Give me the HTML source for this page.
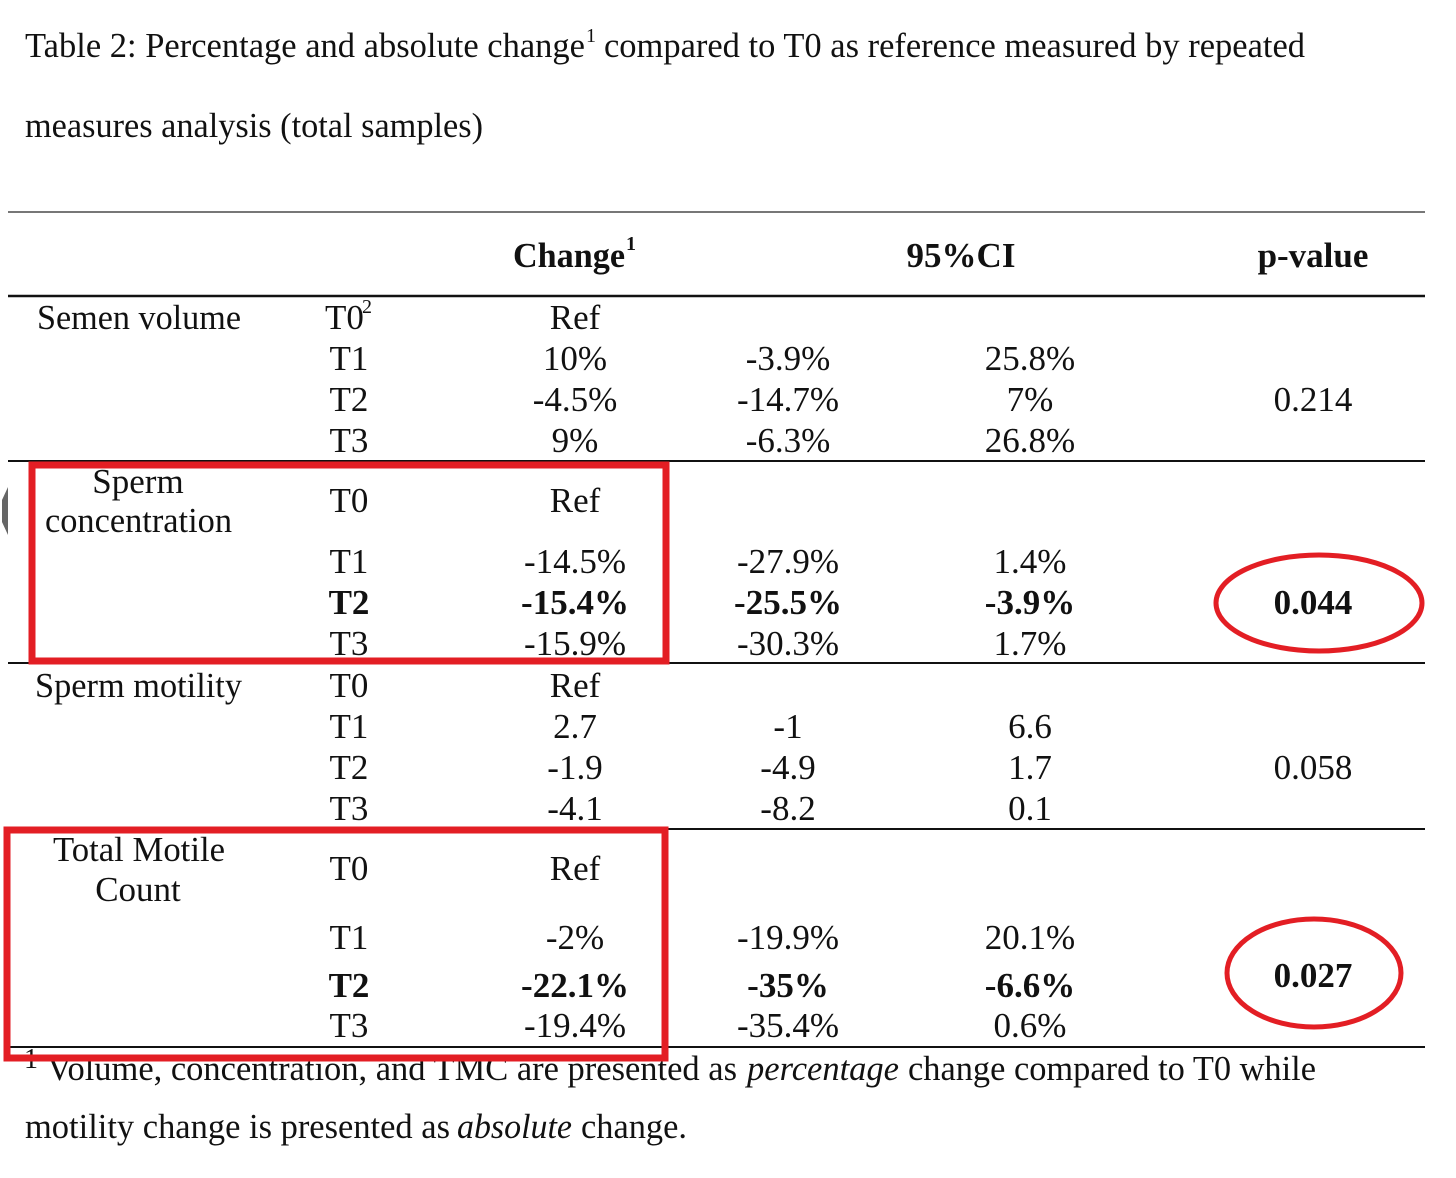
<!DOCTYPE html>
<html><head><meta charset="utf-8"><style>
html,body{margin:0;padding:0;background:#fff;}
svg{display:block;}
text{font-family:"Liberation Serif",serif;font-size:35px;fill:#111;}
.c{text-anchor:middle;}
.b{font-weight:bold;}
</style></head><body>
<svg width="1456" height="1178" viewBox="0 0 1456 1178">
<text x="25" y="57" textLength="560" lengthAdjust="spacingAndGlyphs">Table 2: Percentage and absolute change</text>
<text x="586" y="42" style="font-size:20px">1</text>
<text x="604" y="57" textLength="701" lengthAdjust="spacingAndGlyphs">compared to T0 as reference measured by repeated</text>
<text x="25" y="137" textLength="458" lengthAdjust="spacingAndGlyphs">measures analysis (total samples)</text>

<line x1="8" y1="212" x2="1425" y2="212" stroke="#777" stroke-width="2"/>
<text x="513" y="267" class="b" textLength="112" lengthAdjust="spacingAndGlyphs">Change</text>
<text x="626" y="250" class="b" style="font-size:20px">1</text>
<text x="961" y="267" class="c b">95%CI</text>
<text x="1313" y="267" class="c b">p-value</text>
<line x1="8" y1="296" x2="1425" y2="296" stroke="#111" stroke-width="2.5"/>

<g>
<text x="37" y="329" textLength="204" lengthAdjust="spacingAndGlyphs">Semen volume</text>
<text x="325" y="329">T0</text><text x="362" y="313" style="font-size:20px">2</text>
<text x="349" y="370" class="c">T1</text><text x="349" y="411" class="c">T2</text><text x="349" y="452" class="c">T3</text>
<text x="575" y="329" class="c">Ref</text><text x="575" y="370" class="c">10%</text><text x="575" y="411" class="c">-4.5%</text><text x="575" y="452" class="c">9%</text>
<text x="788" y="370" class="c">-3.9%</text><text x="788" y="411" class="c">-14.7%</text><text x="788" y="452" class="c">-6.3%</text>
<text x="1030" y="370" class="c">25.8%</text><text x="1030" y="411" class="c">7%</text><text x="1030" y="452" class="c">26.8%</text>
<text x="1313" y="411" class="c">0.214</text>
</g>
<line x1="8" y1="461" x2="1425" y2="461" stroke="#111" stroke-width="2"/>

<g>
<text x="138" y="493" class="c">Sperm</text>
<text x="45" y="532" textLength="187" lengthAdjust="spacingAndGlyphs">concentration</text>
<text x="349" y="512" class="c">T0</text><text x="349" y="573" class="c">T1</text><text x="349" y="614" class="c b">T2</text><text x="349" y="655" class="c">T3</text>
<text x="575" y="512" class="c">Ref</text><text x="575" y="573" class="c">-14.5%</text><text x="575" y="614" class="c b">-15.4%</text><text x="575" y="655" class="c">-15.9%</text>
<text x="788" y="573" class="c">-27.9%</text><text x="788" y="614" class="c b">-25.5%</text><text x="788" y="655" class="c">-30.3%</text>
<text x="1030" y="573" class="c">1.4%</text><text x="1030" y="614" class="c b">-3.9%</text><text x="1030" y="655" class="c">1.7%</text>
<text x="1313" y="614" class="c b">0.044</text>
</g>
<line x1="8" y1="663" x2="1425" y2="663" stroke="#111" stroke-width="2"/>

<g>
<text x="35" y="697" textLength="207" lengthAdjust="spacingAndGlyphs">Sperm motility</text>
<text x="349" y="697" class="c">T0</text><text x="349" y="738" class="c">T1</text><text x="349" y="779" class="c">T2</text><text x="349" y="820" class="c">T3</text>
<text x="575" y="697" class="c">Ref</text><text x="575" y="738" class="c">2.7</text><text x="575" y="779" class="c">-1.9</text><text x="575" y="820" class="c">-4.1</text>
<text x="788" y="738" class="c">-1</text><text x="788" y="779" class="c">-4.9</text><text x="788" y="820" class="c">-8.2</text>
<text x="1030" y="738" class="c">6.6</text><text x="1030" y="779" class="c">1.7</text><text x="1030" y="820" class="c">0.1</text>
<text x="1313" y="779" class="c">0.058</text>
</g>
<line x1="8" y1="829" x2="1425" y2="829" stroke="#111" stroke-width="2"/>

<g>
<text x="53" y="861" textLength="172" lengthAdjust="spacingAndGlyphs">Total Motile</text>
<text x="138" y="901" class="c">Count</text>
<text x="349" y="880" class="c">T0</text><text x="349" y="949" class="c">T1</text><text x="349" y="997" class="c b">T2</text><text x="349" y="1037" class="c">T3</text>
<text x="575" y="880" class="c">Ref</text><text x="575" y="949" class="c">-2%</text><text x="575" y="997" class="c b">-22.1%</text><text x="575" y="1037" class="c">-19.4%</text>
<text x="788" y="949" class="c">-19.9%</text><text x="788" y="997" class="c b">-35%</text><text x="788" y="1037" class="c">-35.4%</text>
<text x="1030" y="949" class="c">20.1%</text><text x="1030" y="997" class="c b">-6.6%</text><text x="1030" y="1037" class="c">0.6%</text>
<text x="1313" y="987" class="c b">0.027</text>
</g>
<line x1="8" y1="1047" x2="1425" y2="1047" stroke="#111" stroke-width="2"/>

<text x="24" y="1068" style="font-size:28px">1</text>
<text x="47" y="1080" textLength="690" lengthAdjust="spacingAndGlyphs">Volume, concentration, and TMC are presented as</text>
<text x="747" y="1080" font-style="italic" textLength="152" lengthAdjust="spacingAndGlyphs">percentage</text>
<text x="908" y="1080" textLength="408" lengthAdjust="spacingAndGlyphs">change compared to T0 while</text>
<text x="25" y="1138" textLength="425" lengthAdjust="spacingAndGlyphs">motility change is presented as</text>
<text x="457" y="1138" font-style="italic" textLength="115" lengthAdjust="spacingAndGlyphs">absolute</text>
<text x="581" y="1138" textLength="106" lengthAdjust="spacingAndGlyphs">change.</text>

<path d="M8 487 L2 500 L2 522 L8 535 Z" fill="#666"/>

<rect x="32" y="465" width="634" height="196" fill="none" stroke="#e31e24" stroke-width="7"/>
<rect x="7" y="830" width="658" height="228" fill="none" stroke="#e31e24" stroke-width="7"/>
<ellipse cx="1319" cy="603" rx="103" ry="48" fill="none" stroke="#e31e24" stroke-width="5"/>
<ellipse cx="1314" cy="973" rx="87" ry="54" fill="none" stroke="#e31e24" stroke-width="5"/>
</svg>
</body></html>
